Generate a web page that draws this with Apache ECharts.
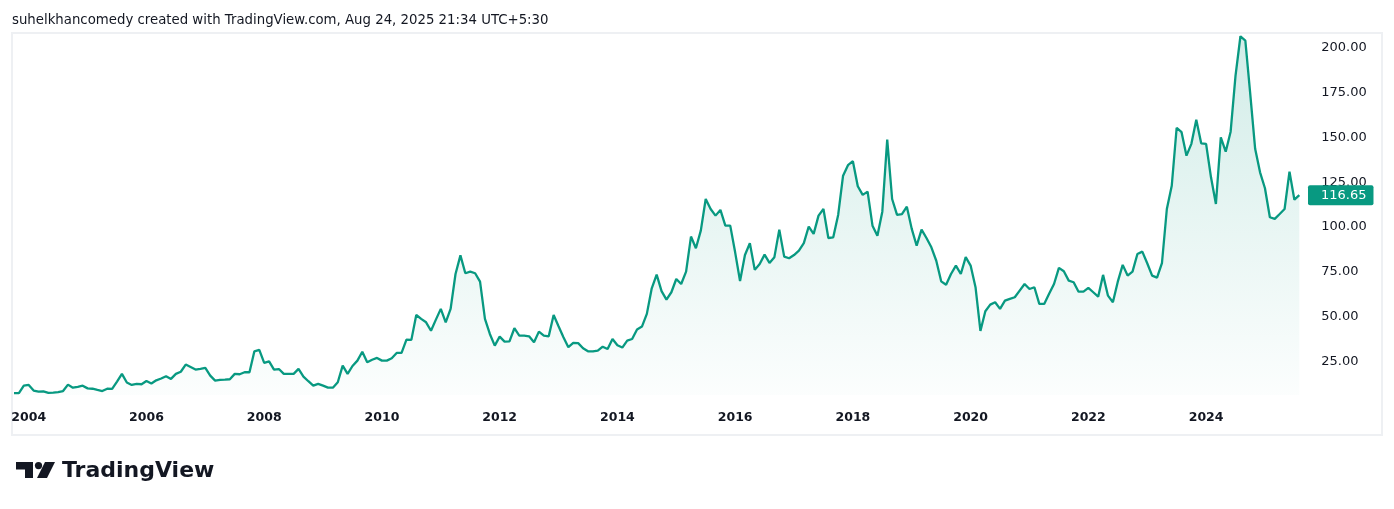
<!DOCTYPE html>
<html>
<head>
<meta charset="utf-8">
<script src="https://cdn.jsdelivr.net/npm/echarts@6/dist/echarts.min.js"></script>
<style>
  html, body { margin: 0; padding: 0; background: #ffffff; }
  #chart { width: 1394px; height: 509px; }
</style>
</head>
<body>
<div id="chart"></div>
<script>
// ---- data (monthly close, Oct 2003 .. Aug 2025) ----
const startYear = 2003;
const startMonth = 10;
const closes = [
  6.1, 6.0, 10.2, 10.6, 7.5, 6.9, 7.0, 6.2, 6.3, 6.6,
  7.2, 10.8, 9.1, 9.6, 10.2, 8.7, 8.5, 7.8, 7.2, 8.5,
  8.4, 12.5, 16.8, 12.0, 10.6, 11.2, 11.0, 12.8, 11.4, 13.2,
  14.2, 15.5, 14.0, 16.8, 18.0, 22.0, 20.6, 19.2, 19.6, 20.1,
  15.8, 13.0, 13.5, 13.6, 13.8, 16.8, 16.6, 17.7, 17.7, 29.4,
  30.2, 22.9, 23.8, 19.2, 19.5, 16.8, 16.8, 16.8, 19.6, 15.3,
  12.7, 10.2, 11.2, 10.2, 9.1, 9.1, 12.1, 21.4, 16.8, 21.2,
  24.2, 29.2, 23.3, 24.7, 25.7, 24.2, 24.2, 25.5, 28.5, 28.5,
  35.9, 35.8, 49.7, 47.5, 45.6, 40.9, 47.1, 53.1, 45.6, 53.1,
  72.6, 83.0, 73.0, 73.9, 73.0, 68.3, 47.5, 39.1, 32.6, 37.6,
  34.8, 35.0, 42.3, 38.2, 38.2, 37.8, 34.5, 40.4, 38.2, 37.8,
  49.7, 43.4, 37.3, 31.7, 34.1, 34.0, 31.1, 29.4, 29.4, 29.8,
  32.0, 30.7, 36.3, 32.8, 31.5, 35.4, 36.3, 41.6, 43.2, 50.3,
  64.6, 72.2, 63.0, 58.3, 62.4, 69.8, 67.0, 73.9, 93.5, 87.0,
  96.8, 114.5, 108.9, 105.2, 108.4, 99.6, 99.6, 84.7, 68.7, 83.2,
  89.8, 74.9, 78.2, 83.4, 78.8, 82.0, 97.4, 82.3, 81.4, 83.2,
  85.6, 89.8, 99.1, 95.0, 105.2, 108.9, 92.7, 93.1, 105.6, 127.5,
  133.4, 135.6, 121.6, 116.8, 118.6, 99.6, 94.0, 107.4, 147.7, 114.5,
  105.6, 106.1, 110.2, 97.8, 88.4, 97.4, 92.7, 87.5, 80.0, 68.5,
  66.6, 72.6, 77.3, 72.6, 82.0, 77.3, 65.2, 40.8, 51.8, 55.5,
  56.8, 53.1, 57.7, 58.7, 59.6, 63.3, 67.0, 64.2, 65.2, 55.9,
  55.9, 61.5, 67.0, 76.0, 74.1, 68.9, 68.0, 62.7, 62.7, 64.8,
  62.4, 59.9, 72.1, 60.5, 56.8, 68.3, 77.7, 71.7, 73.9, 83.8,
  85.1, 78.6, 71.7, 70.6, 78.6, 108.9, 121.9, 154.3, 151.8, 138.7,
  145.3, 158.8, 145.6, 145.3, 126.6, 111.7, 148.9, 140.9, 152.1, 183.4,
  205.4, 203.0, 173.2, 142.5, 129.4, 120.5, 104.3, 103.4, 106.1, 108.9,
  129.8, 114.1, 116.65
];
const lastPrice = 116.65;
const yTicks = [25, 50, 75, 100, 125, 150, 175, 200];
const xTickYears = [2004, 2006, 2008, 2010, 2012, 2014, 2016, 2018, 2020, 2022, 2024];
const titleText = 'suhelkhancomedy created with TradingView.com, Aug 24, 2025 21:34 UTC+5:30';
const logoText = 'TradingView';

// month categories
const months = [];
{
  let y = startYear, m = startMonth;
  for (let i = 0; i < closes.length; i++) {
    months.push(y + '-' + String(m).padStart(2, '0'));
    m++; if (m > 12) { m = 1; y++; }
  }
}

const GREEN = '#089981';
const TEXT = '#131722';

const chart = echarts.init(document.getElementById('chart'), null, { renderer: 'canvas' });
chart.setOption({
  backgroundColor: '#ffffff',
  animation: false,
  grid: { left: 14, right: 94.7, top: 35, bottom: 114, containLabel: false },
  xAxis: {
    type: 'category',
    data: months,
    boundaryGap: false,
    axisLine: { show: false },
    axisTick: { show: false },
    splitLine: { show: false },
    axisLabel: {
      interval: function (idx, val) {
        return val.slice(5) === '01' && xTickYears.indexOf(+val.slice(0, 4)) >= 0;
      },
      formatter: function (val) { return val.slice(0, 4); },
      color: TEXT,
      fontFamily: 'DejaVu Sans',
      fontWeight: 'bold',
      fontSize: 12.5,
      margin: 16
    }
  },
  yAxis: {
    type: 'value',
    position: 'right',
    min: 5,
    max: 206.1,
    axisLine: { show: false },
    axisTick: { show: false },
    splitLine: { show: false },
    axisLabel: {
      customValues: yTicks,
      formatter: function (v) { return '{p|' + v.toFixed(2) + '}'; },
      color: TEXT,
      fontFamily: 'DejaVu Sans',
      fontSize: 13,
      margin: 22,
      align: 'left',
      rich: {
        p: { color: TEXT, fontFamily: 'DejaVu Sans', fontSize: 13, padding: [4, 0, 0, 0] }
      }
    }
  },
  series: [{
    type: 'line',
    data: closes,
    symbol: 'none',
    smooth: false,
    lineStyle: { color: GREEN, width: 2.3 },
    itemStyle: { color: GREEN },
    areaStyle: {
      color: new echarts.graphic.LinearGradient(0, 0, 0, 1, [
        { offset: 0, color: 'rgba(8,153,129,0.26)' },
        { offset: 1, color: 'rgba(8,153,129,0.02)' }
      ])
    },
    markLine: {
      silent: true,
      symbol: 'none',
      animation: false,
      lineStyle: { color: 'rgba(0,0,0,0)', width: 0, type: 'solid' },
      data: [{ yAxis: lastPrice }],
      label: {
        show: true,
        position: 'end',
        distance: 8.7,
        formatter: function () { return lastPrice.toFixed(2); },
        color: '#ffffff',
        backgroundColor: GREEN,
        borderRadius: 2,
        padding: [4, 7, 3, 13],
        fontFamily: 'DejaVu Sans',
        fontSize: 13,
        opacity: 1
      }
    }
  }],
  graphic: [
    {
      type: 'rect',
      silent: true,
      shape: { x: 12, y: 33, width: 1370, height: 402 },
      style: { fill: 'none', stroke: '#eef0f3', lineWidth: 2 },
      z: -1
    },
    {
      type: 'text',
      left: 12, top: 14,
      style: { text: titleText, fill: TEXT, font: '13.3px "DejaVu Sans"' }
    },
    {
      type: 'group',
      left: 16, top: 462,
      children: [
        { type: 'rect', shape: { x: 0, y: 0, width: 17, height: 7.5 }, style: { fill: TEXT } },
        { type: 'rect', shape: { x: 9, y: 0, width: 8, height: 16 }, style: { fill: TEXT } },
        { type: 'circle', shape: { cx: 22.5, cy: 3.6, r: 3.6 }, style: { fill: TEXT } },
        { type: 'polygon', shape: { points: [[29, 0], [39, 0], [31, 16], [21, 16]] }, style: { fill: TEXT } }
      ]
    },
    {
      type: 'text',
      left: 62, top: 460,
      style: { text: logoText, fill: TEXT, font: 'bold 22px "DejaVu Sans"' }
    }
  ]
});
</script>
</body>
</html>
